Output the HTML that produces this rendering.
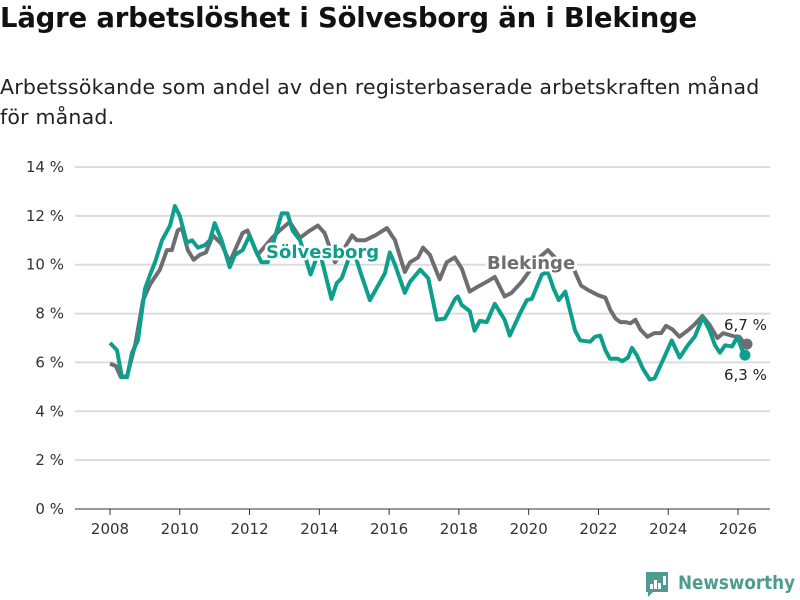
<!DOCTYPE html>
<html><head><meta charset="utf-8"><style>
body{margin:0;background:#fff;font-family:"DejaVu Sans","Liberation Sans",sans-serif;}
#wrap{position:relative;width:800px;height:600px;overflow:hidden;}
h1{position:absolute;left:0;top:2px;margin:0;font-size:27.5px;font-weight:bold;color:#111;letter-spacing:-0.2px;}
p.sub{position:absolute;left:0;top:72px;margin:0;font-size:20.5px;line-height:30px;color:#222;width:786px;letter-spacing:0.2px;}
svg{position:absolute;left:0;top:0;}
</style></head><body>
<div id="wrap">
<h1>Lägre arbetslöshet i Sölvesborg än i Blekinge</h1>
<p class="sub">Arbetssökande som andel av den registerbaserade arbetskraften månad för månad.</p>
<svg id="chart" width="800" height="600"></svg>
</div>
<script>
const yTicks=[0,2,4,6,8,10,12,14];
const xTicks=[2008,2010,2012,2014,2016,2018,2020,2022,2024,2026];
const blekX=[2008.0,2008.17,2008.31,2008.49,2008.72,2008.95,2009.15,2009.43,2009.63,2009.77,2009.94,2010.06,2010.23,2010.4,2010.57,2010.75,2010.95,2011.2,2011.43,2011.66,2011.8,2011.94,2012.23,2012.65,2012.86,2013.15,2013.45,2013.68,2013.96,2014.15,2014.45,2014.6,2014.94,2015.08,2015.31,2015.6,2015.94,2016.17,2016.45,2016.6,2016.83,2016.97,2017.17,2017.45,2017.65,2017.88,2018.08,2018.31,2018.54,2018.8,2019.03,2019.31,2019.51,2019.8,2020.1,2020.31,2020.55,2020.75,2021.0,2021.3,2021.5,2021.72,2022.0,2022.2,2022.34,2022.49,2022.63,2022.77,2022.92,2023.06,2023.2,2023.4,2023.6,2023.8,2023.94,2024.12,2024.32,2024.55,2024.75,2024.98,2025.18,2025.41,2025.58,2025.81,2026.04,2026.2];
const blekV=[5.95,5.85,5.4,5.45,6.7,8.55,9.2,9.8,10.6,10.6,11.4,11.5,10.6,10.2,10.4,10.5,11.2,10.85,10.1,10.85,11.3,11.4,10.4,11.1,11.4,11.75,11.1,11.35,11.6,11.3,10.1,10.4,11.2,11.0,11.0,11.2,11.5,11.0,9.7,10.1,10.3,10.7,10.4,9.4,10.1,10.3,9.85,8.9,9.1,9.3,9.5,8.7,8.85,9.3,9.9,10.3,10.6,10.3,10.0,9.8,9.15,8.95,8.75,8.65,8.15,7.8,7.65,7.65,7.6,7.75,7.35,7.05,7.2,7.2,7.5,7.35,7.05,7.3,7.55,7.9,7.55,7.0,7.2,7.1,7.05,6.75];
const solvX=[2008.0,2008.2,2008.34,2008.49,2008.63,2008.8,2009.0,2009.15,2009.29,2009.49,2009.72,2009.86,2010.0,2010.2,2010.35,2010.52,2010.72,2010.86,2011.0,2011.2,2011.43,2011.58,2011.8,2012.0,2012.17,2012.34,2012.52,2012.92,2013.09,2013.23,2013.45,2013.75,2014.0,2014.35,2014.5,2014.64,2014.93,2015.0,2015.2,2015.45,2015.88,2016.02,2016.17,2016.45,2016.6,2016.89,2017.12,2017.37,2017.6,2017.89,2017.97,2018.08,2018.31,2018.45,2018.6,2018.8,2019.03,2019.31,2019.46,2019.75,2019.95,2020.09,2020.38,2020.55,2020.72,2020.86,2021.05,2021.33,2021.48,2021.76,2021.9,2022.05,2022.2,2022.33,2022.56,2022.68,2022.85,2022.96,2023.1,2023.27,2023.47,2023.61,2023.9,2024.1,2024.33,2024.56,2024.76,2024.99,2025.19,2025.34,2025.48,2025.63,2025.83,2025.98,2026.12,2026.2];
const solvV=[6.8,6.5,5.4,5.4,6.4,6.9,9.0,9.6,10.1,11.0,11.6,12.4,12.0,10.9,11.0,10.7,10.8,11.0,11.7,11.0,9.9,10.4,10.6,11.2,10.6,10.1,10.1,12.1,12.1,11.4,11.0,9.6,10.6,8.6,9.25,9.45,10.6,10.5,9.6,8.55,9.65,10.5,10.0,8.85,9.3,9.8,9.45,7.75,7.8,8.6,8.7,8.35,8.1,7.3,7.7,7.65,8.4,7.75,7.1,8.0,8.55,8.6,9.6,9.7,9.0,8.55,8.9,7.3,6.9,6.85,7.05,7.1,6.5,6.15,6.15,6.05,6.2,6.6,6.3,5.75,5.3,5.35,6.25,6.9,6.2,6.7,7.05,7.85,7.3,6.7,6.4,6.7,6.65,7.05,6.5,6.3];
const svg=document.getElementById('chart');
const NS='http://www.w3.org/2000/svg';
const x0=110,x1=738,yb=509,yt=167;
function X(t){return x0+(t-2008)/(2026-2008)*(x1-x0);}
function Y(v){return yb-v/14*(yb-yt);}
function mk(tag,attrs,txt){const e=document.createElementNS(NS,tag);for(const k in attrs)e.setAttribute(k,attrs[k]);if(txt!=null)e.textContent=txt;svg.appendChild(e);return e;}
const F='"DejaVu Sans","Liberation Sans",sans-serif';
yTicks.forEach(v=>{
 const g=mk('line',{x1:75,x2:770,y1:Y(v),y2:Y(v),stroke:v===0?'#333':'#dcdcdc','stroke-width':v===0?1:2});
 
 
 const t=mk('text',{x:64,y:Y(v)+5,'text-anchor':'end','font-size':15,fill:'#333','font-family':F},v+' %');
 
 
});
xTicks.forEach(yr=>{
 const l=mk('line',{x1:X(yr),x2:X(yr),y1:yb,y2:yb+6,stroke:'#333','stroke-width':1});
 
 
 const t=mk('text',{x:X(yr),y:534,'text-anchor':'middle','font-size':15,fill:'#333','font-family':F},String(yr));
 
 
});
function path(xs,vs){return xs.map((t,i)=>(i?'L':'M')+X(t).toFixed(1)+','+Y(vs[i]).toFixed(1)).join('');}
const pb=mk('path',{d:path(blekX,blekV),fill:'none',stroke:'#6e6d72','stroke-width':4,'stroke-linejoin':'round'});


const ps=mk('path',{d:path(solvX,solvV),fill:'none',stroke:'#0e9f8c','stroke-width':4,'stroke-linejoin':'round'});


const lb=blekX.length-1,ls=solvX.length-1;
const db=mk('circle',{cx:X(blekX[lb])+2,cy:Y(blekV[lb]),r:5.5,fill:'#6e6d72'});


const ds=mk('circle',{cx:X(solvX[ls]),cy:Y(solvV[ls]),r:5.5,fill:'#0e9f8c'});


const halo={stroke:'#fff','stroke-width':5,'paint-order':'stroke','stroke-linejoin':'round'};
function lab(x,y,txt,opts,name){const a=Object.assign({x:x,y:y,'font-family':F},halo,opts);const t=mk('text',a,txt);}
lab(266,258,'Sölvesborg',{'font-size':18,'font-weight':'bold',fill:'#0e9f8c'},'solvesborg-label');
lab(487,269,'Blekinge',{'font-size':18,'font-weight':'bold',fill:'#6e6d72'},'blekinge-label');
lab(724,330,'6,7 %',{'font-size':15,fill:'#222'},'blekinge-end-value');
lab(724,380,'6,3 %',{'font-size':15,fill:'#222'},'solvesborg-end-value');
const lg=mk('g',{});


const r=mk('path',{d:'M646,572 h22 v20 h-15 l-5,5 v-5 h-2 z',fill:'#4e9c91'});


[[650,584,3,5],[654,580,3,9],[658,583,3,6],[663,576,3,9]].forEach(b=>{const e=mk('rect',{x:b[0],y:b[1],width:b[2],height:b[3],fill:'#fff'});});
const lt=mk('text',{x:678,y:589,'font-size':19,'font-weight':'bold',fill:'#4e9c91','font-family':F,textLength:117,lengthAdjust:'spacingAndGlyphs'},'Newsworthy');


</script>
</body></html>
